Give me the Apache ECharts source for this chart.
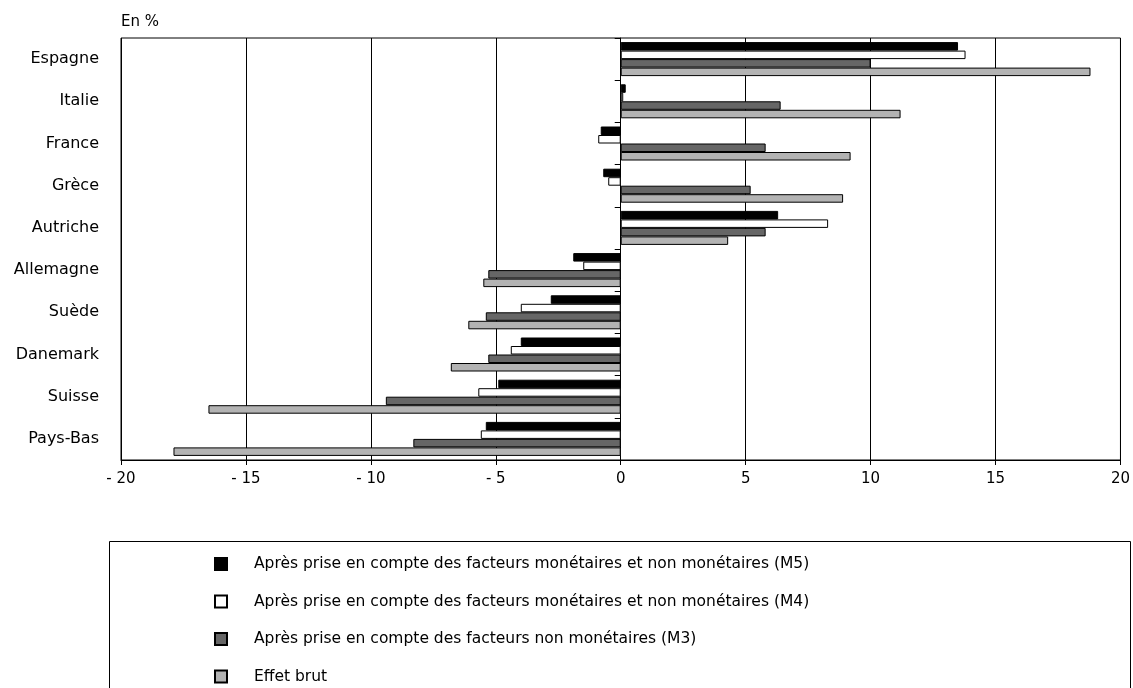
<!DOCTYPE html>
<html>
<head>
<meta charset="utf-8">
<script src="https://cdn.jsdelivr.net/npm/echarts@6/dist/echarts.min.js"></script>
<style>html,body{margin:0;padding:0;background:#fff;}#c{width:1133px;height:688px;}</style>
</head>
<body>
<div id="c"></div>
<script>
const categories = ['Espagne','Italie','France','Grèce','Autriche','Allemagne','Suède','Danemark','Suisse','Pays-Bas'];
const seriesNames = [
  'Après prise en compte des facteurs monétaires et non monétaires (M5)',
  'Après prise en compte des facteurs monétaires et non monétaires (M4)',
  'Après prise en compte des facteurs non monétaires (M3)',
  'Effet brut'
];
const m5 = [13.5, 0.2, -0.8, -0.7, 6.3, -1.9, -2.8, -4.0, -4.9, -5.4];
const m4 = [13.8, 0.1, -0.9, -0.5, 8.3, -1.5, -4.0, -4.4, -5.7, -5.6];
const m3 = [10.0, 6.4, 5.8, 5.2, 5.8, -5.3, -5.4, -5.3, -9.4, -8.3];
const brut = [18.8, 11.2, 9.2, 8.9, 4.3, -5.5, -6.1, -6.8, -16.5, -17.9];
const xTicks = {min: -20, max: 20, interval: 5};
const unitLabel = 'En %';

const FONT = 'DejaVu Sans';
const colors = ['#000000', '#ffffff', '#666666', '#b3b3b3'];
const values = [m5, m4, m3, brut];

const chart = echarts.init(document.getElementById('c'), null, {renderer: 'canvas'});
const option = {
  animation: false,
  backgroundColor: '#fff',
  textStyle: {fontFamily: FONT},
  grid: {left: 121, right: 11, top: 38, bottom: 228, show: true, borderColor: '#000', borderWidth: 1, backgroundColor: 'transparent'},
  xAxis: {
    type: 'value', min: xTicks.min, max: xTicks.max, interval: xTicks.interval,
    axisLine: {show: true, onZero: false, lineStyle: {color: '#000', width: 1}},
    axisTick: {show: true, length: 5, lineStyle: {color: '#000'}},
    splitLine: {show: true, lineStyle: {color: '#000', width: 1}},
    axisLabel: {color: '#000', fontSize: 15, fontFamily: FONT, margin: 12,
      formatter: v => v < 0 ? '- ' + Math.abs(v) : String(v)}
  },
  yAxis: [
    {
      type: 'category', data: categories, inverse: true, position: 'left',
      axisLine: {show: false, onZero: false}, axisTick: {show: false},
      axisLabel: {color: '#000', fontSize: 16, fontFamily: FONT, margin: 22}
    },
    {
      type: 'category', data: categories, inverse: true, position: 'left',
      axisLine: {show: true, onZero: true, lineStyle: {color: '#000', width: 1}},
      axisTick: {show: true, length: 6, lineStyle: {color: '#000'}},
      axisLabel: {show: false}
    }
  ],
  legend: {
    orient: 'vertical', left: 214, top: 556, padding: 0, height: 140,
    itemWidth: 12, itemHeight: 12, itemGap: 21.5, icon: 'rect',
    textStyle: {color: '#000', fontSize: 15.5, fontFamily: FONT, lineHeight: 16, padding: [0, 0, 0, 22]},
    data: seriesNames
  },
  graphic: [
    {type: 'text', left: 121, top: 15, style: {text: unitLabel, font: '15px "DejaVu Sans"', fill: '#000'}},
    {type: 'rect', shape: {x: 109.5, y: 541.5, width: 1021, height: 160}, style: {fill: 'none', stroke: '#000', lineWidth: 1}, silent: true}
  ],
  series: seriesNames.map((name, i) => ({
    name: name, type: 'bar', yAxisIndex: 0,
    data: values[i], barWidth: 8.5, barGap: '0%',
    itemStyle: {color: colors[i], borderColor: '#000', borderWidth: 1}
  }))
};
chart.setOption(option);
</script>
</body>
</html>
